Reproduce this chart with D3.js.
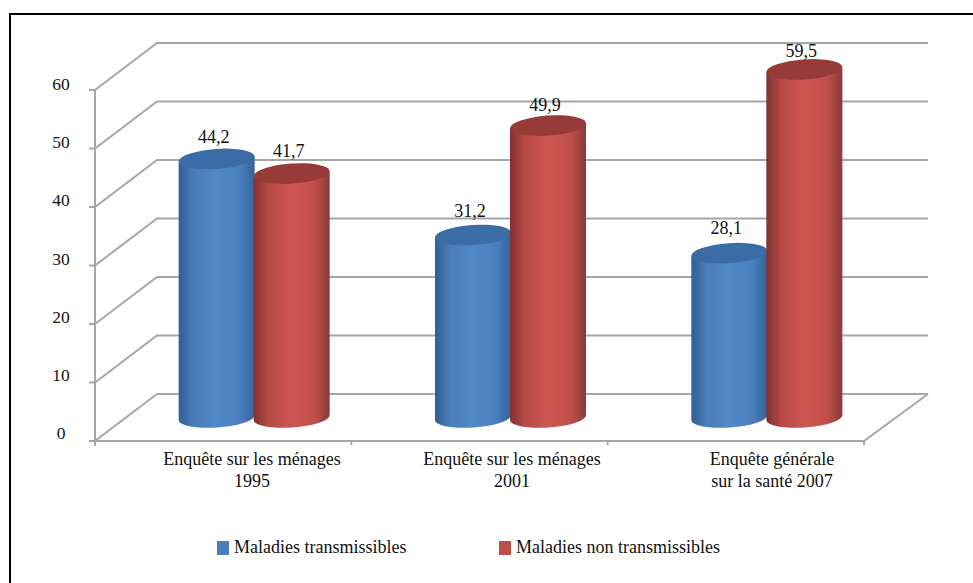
<!DOCTYPE html>
<html>
<head>
<meta charset="utf-8">
<script src="https://cdn.jsdelivr.net/npm/d3@7"></script>
<style>
	html, body { margin: 0; padding: 0; background: #fff; }
	svg { display: block; }
	text { font-family: "Liberation Serif", serif; fill: #111; }
</style>
</head>
<body>
<script>
'use strict'

const categories = [['Enquête sur les ménages', '1995'], ['Enquête sur les ménages', '2001'], ['Enquête générale', 'sur la santé 2007']];
const seriesNames = ['Maladies transmissibles', 'Maladies non transmissibles'];
const transmissibles = [44.2, 31.2, 28.1];
const nonTransmissibles = [41.7, 49.9, 59.5];
const yTicks = [0, 10, 20, 30, 40, 50, 60];

const width = 973, height = 583;
const depth = { x: 62, y: -47 };
const wallRight = 928;

const svg = d3.select('body').append('svg').attr('width', width).attr('height', height);

// frame, only top and left are in the picture
svg.append('path').attr('d', 'M10,' + height + 'V14H' + width)
	.attr('fill', 'none').attr('stroke', '#000').attr('stroke-width', 2);

const y = d3.scaleLinear().domain([0, 60]).range([441, 90]);
const x = d3.scaleBand().domain(d3.range(categories.length)).range([95, 864]);
const xs = d3.scaleBand().domain([0, 1]).range([-75, 75]);
// labels sit on their own slightly different scales in the reference
const yLabel = d3.scaleLinear().domain([0, 60]).range([439, 90]);
const valueLabel = d3.scaleLinear().domain([0, 60]).range([392.4, 54.2]);
const catLabel = d3.scaleBand().domain(d3.range(categories.length)).range([122, 902]);
const rx = 38, ry = 10, tilt = -4;

// gradients and a little softness
const defs = svg.append('defs');
defs.append('filter').attr('id', 'soft').append('feGaussianBlur').attr('stdDeviation', 0.5);
const colours = [
	['#2f5f96', '#4a7db8', '#5288c8', '#4a7fbe', '#35639a', '#3a6ca6'],
	['#803130', '#b84a48', '#cf5552', '#c04f4c', '#8a3a38', '#963a38']
];
colours.forEach((c, i) => {
	const g = defs.append('linearGradient').attr('id', 'body' + i);
	[0, 0.2, 0.5, 0.8, 1].forEach((o, j) => {
		g.append('stop').attr('offset', o).attr('stop-color', c[j]);
	});
});

// walls and floor
const left = x.range()[0], right = x.range()[1];
const grid = svg.append('g').attr('fill', 'none').attr('stroke', '#a6a6a6').attr('stroke-width', 2).attr('filter', 'url(#soft)');
grid.selectAll('path.wall').data(yTicks).enter().append('path').classed('wall', true)
	.attr('d', d => 'M' + left + ',' + y(d) + 'L' + (left + depth.x) + ',' + (y(d) + depth.y) + 'H' + wallRight);
grid.append('path').attr('d', 'M' + left + ',' + y(0) + 'H' + right + 'L' + wallRight + ',' + (y(0) + depth.y));
grid.append('path').attr('d', 'M' + left + ',' + y(60) + 'V' + (y(0) + 5));
grid.selectAll('line.ytick').data(yTicks).enter().append('line').classed('ytick', true)
	.attr('x1', left - 6).attr('x2', left).attr('y1', d => y(d)).attr('y2', d => y(d));
grid.selectAll('line.xtick').data(d3.range(categories.length + 1)).enter().append('line').classed('xtick', true)
	.attr('x1', d => left + d * x.step()).attr('x2', d => left + d * x.step())
	.attr('y1', y(0)).attr('y2', y(0) + 4);

// y labels
svg.selectAll('text.ylab').data(yTicks).enter().append('text').classed('ylab', true)
	.attr('x', 61).attr('y', d => yLabel(d)).attr('text-anchor', 'middle').attr('font-size', 17.5).text(d => d);

// cylinders
const rows = [];
categories.forEach((c, i) => {
	rows.push({ cat: i, s: 0, v: transmissibles[i] });
	rows.push({ cat: i, s: 1, v: nonTransmissibles[i] });
});
const cx = d => x(d.cat) + x.bandwidth() / 2 + depth.x / 2 + xs(d.s) + xs.bandwidth() / 2;
const topY = d => y(d.v) + depth.y / 2;
const baseY = y(0) + depth.y / 2;
const dy = rx * Math.sin(tilt * Math.PI / 180);

const bars = svg.selectAll('g.bar').data(rows).enter().append('g').classed('bar', true);
const shapes = bars.append('g').attr('filter', 'url(#soft)');
shapes.append('path')
	.attr('fill', d => 'url(#body' + d.s + ')')
	.attr('d', d => {
		const l = cx(d) - rx, r = cx(d) + rx;
		return 'M' + l + ',' + (topY(d) - dy) + 'L' + l + ',' + (baseY - dy)
			+ 'A' + rx + ',' + ry + ' ' + tilt + ' 0 0 ' + r + ',' + (baseY + dy)
			+ 'L' + r + ',' + (topY(d) + dy) + 'Z';
	});
shapes.append('ellipse')
	.attr('rx', rx).attr('ry', ry)
	.attr('transform', d => 'translate(' + cx(d) + ',' + topY(d) + ') rotate(' + tilt + ')')
	.attr('fill', d => colours[d.s][5]);

// value labels
svg.selectAll('text.val').data(rows).enter().append('text').classed('val', true)
	.attr('x', d => cx(d) - 3).attr('y', d => valueLabel(d.v))
	.attr('text-anchor', 'middle').attr('font-size', 18)
	.text(d => String(d.v).replace('.', ','));

// category labels
const catLabels = svg.selectAll('text.cat').data(categories).enter().append('text').classed('cat', true)
	.attr('text-anchor', 'middle').attr('font-size', 18)
	.attr('transform', (d, i) => 'translate(' + (catLabel(i) + catLabel.bandwidth() / 2) + ',465)');
catLabels.selectAll('tspan').data(d => d).enter().append('tspan')
	.attr('x', 0).attr('y', (d, i) => i * 22).text(d => d);

// legend
const legendX = d3.scaleOrdinal().domain(seriesNames).range([217, 499]);
const legend = svg.selectAll('g.legend').data(seriesNames).enter().append('g').classed('legend', true)
	.attr('transform', d => 'translate(' + legendX(d) + ',541)');
legend.append('rect').attr('width', 12).attr('height', 14)
	.attr('fill', (d, i) => colours[i][3]);
legend.append('text').attr('x', 17).attr('y', 12).attr('font-size', 18).text(d => d);
</script>
</body>
</html>
